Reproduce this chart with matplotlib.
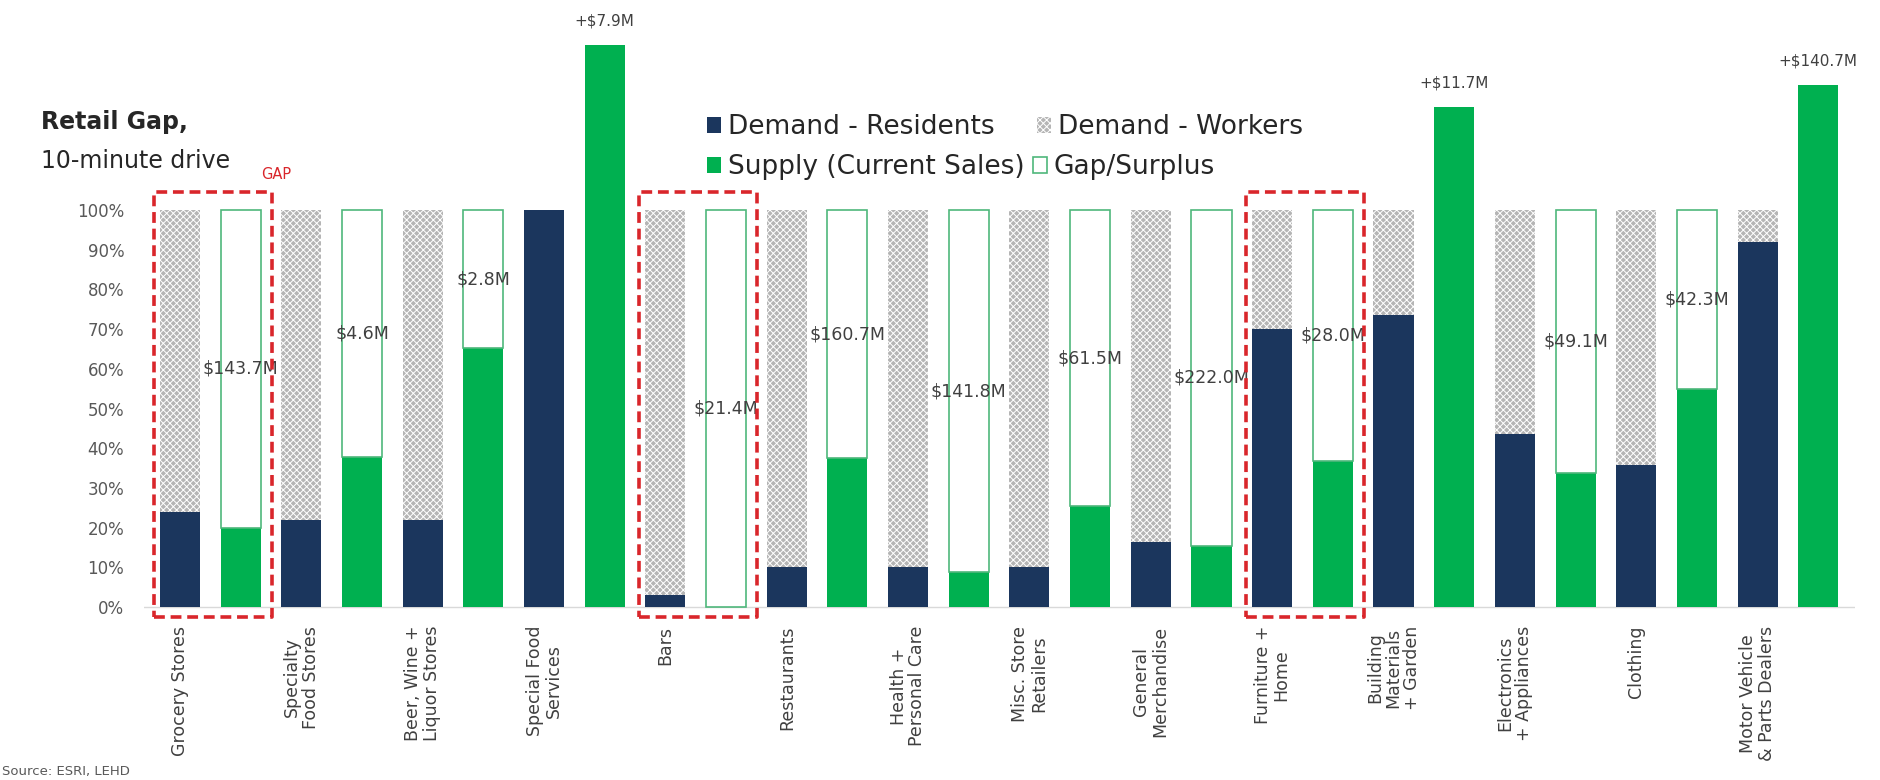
import numpy as np
import matplotlib.pyplot as plt
from matplotlib.patches import Rectangle, Patch

categories = ["Grocery Stores", "Specialty\nFood Stores", "Beer, Wine +\nLiquor Stores",
              "Special Food\nServices", "Bars", "Restaurants", "Health +\nPersonal Care",
              "Misc. Store\nRetailers", "General\nMerchandise", "Furniture +\nHome",
              "Building\nMaterials\n+ Garden", "Electronics\n+ Appliances", "Clothing",
              "Motor Vehicle\n& Parts Dealers"]

# share of demand coming from residents (the rest is workers)
demand_residents = [0.24, 0.22, 0.22, 1.00, 0.03, 0.10, 0.10, 0.10, 0.165, 0.70, 0.735, 0.435, 0.357, 0.92]
# current sales as share of demand (> 1 = surplus)
supply = [0.20, 0.378, 0.652, 1.415, 0.0, 0.375, 0.087, 0.254, 0.154, 0.369, 1.26, 0.337, 0.548, 1.315]
gap_labels = ["$143.7M", "$4.6M", "$2.8M", "+$7.9M", "$21.4M", "$160.7M", "$141.8M",
              "$61.5M", "$222.0M", "$28.0M", "+$11.7M", "$49.1M", "$42.3M", "+$140.7M"]
highlighted = [0, 4, 9]  # Grocery, Bars, Furniture

navy = "#1b365d"
green = "#00b050"
red = "#d9262b"

plt.rcParams["font.family"] = "DejaVu Sans"
plt.rcParams["hatch.linewidth"] = 0.7

residents = np.array(demand_residents)
workers = 1 - residents
sup = np.array(supply)
gap = np.clip(1 - sup, 0, None)

x_dem = np.arange(len(categories)) * 2
x_sup = x_dem + 1
w = 0.66

fig = plt.figure(figsize=(18.8, 7.8), dpi=100)
ax = fig.add_axes([0.0764, 0.2014, 0.9101, 0.7839])

ax.bar(x_dem, residents, w, color=navy, zorder=2)
ax.bar(x_dem, workers, w, bottom=residents, color="#b5b5b5", hatch="xxxxx",
       edgecolor="white", linewidth=0, zorder=2)
ax.bar(x_sup, sup, w, color=green, zorder=2)
has_gap = gap > 0
ax.bar(x_sup[has_gap], gap[has_gap], w, bottom=sup[has_gap], color="white",
       edgecolor="#4fb77c", linewidth=1.2, zorder=2)

ax.axhline(0, color="#d9d9d9", lw=1, zorder=1)

for xs, s, lab in zip(x_sup, sup, gap_labels):
    if s > 1:
        ax.annotate(lab, (xs, s), xytext=(0, 12), textcoords="offset points",
                    ha="center", va="bottom", fontsize=11, color="#404040")
    else:
        ax.text(xs, (s + 1) / 2, lab, ha="center", va="center", fontsize=12.5,
                color="#404040", zorder=4)

# red dashed boxes around the gap categories
for i in highlighted:
    ax.add_patch(Rectangle((x_dem[i] - 0.43, -0.025), 1.94, 1.07, fill=False,
                           edgecolor=red, lw=2.6, linestyle=(0, (3, 1.6)),
                           joinstyle="round", clip_on=False, zorder=5))

ax.set_xlim(-0.6, 27.6)
ax.set_ylim(-0.04, 1.5)
ax.set_yticks(np.arange(0, 1.01, 0.1))
ax.set_yticklabels([f"{int(round(v * 100))}%" for v in np.arange(0, 1.01, 0.1)],
                   fontsize=12, color="#595959")
ax.set_xticks(x_dem)
ax.set_xticklabels(categories, rotation=90, fontsize=12.5, color="#404040",
                   ha="center", va="top", multialignment="center", linespacing=1.05)
ax.tick_params(length=0)
ax.tick_params(axis="y", pad=14)
ax.tick_params(axis="x", pad=2)
for s in ax.spines.values():
    s.set_visible(False)

fig.text(0.022, 0.843, "Retail Gap,", fontsize=17, fontweight="bold", color="#262626",
         va="center")
fig.text(0.022, 0.794, "10-minute drive", fontsize=17, color="#262626", va="center")
fig.text(0.147, 0.776, "GAP", fontsize=10.5, color=red, ha="center", va="center")
fig.text(0.001, 0.002, "Source: ESRI, LEHD", fontsize=9.5, color="#595959", va="bottom")

row1 = [Patch(facecolor=navy), Patch(facecolor="#b5b5b5", hatch="xxxxx", edgecolor="white", lw=0)]
row2 = [Patch(facecolor=green), Patch(facecolor="white", edgecolor="#4fb77c", lw=1.2)]
kw = dict(frameon=False, fontsize=19, handlelength=0.55, handleheight=0.55,
          handletextpad=0.25, borderpad=0, borderaxespad=0, ncol=2, loc="center left",
          labelcolor="#262626")
fig.legend(row1, ["Demand - Residents", "Demand - Workers"], bbox_to_anchor=(0.376, 0.837),
           columnspacing=1.6, **kw)
fig.legend(row2, ["Supply (Current Sales)", "Gap/Surplus"], bbox_to_anchor=(0.376, 0.786),
           columnspacing=0.3, **kw)

plt.savefig("out.png", dpi=100)
